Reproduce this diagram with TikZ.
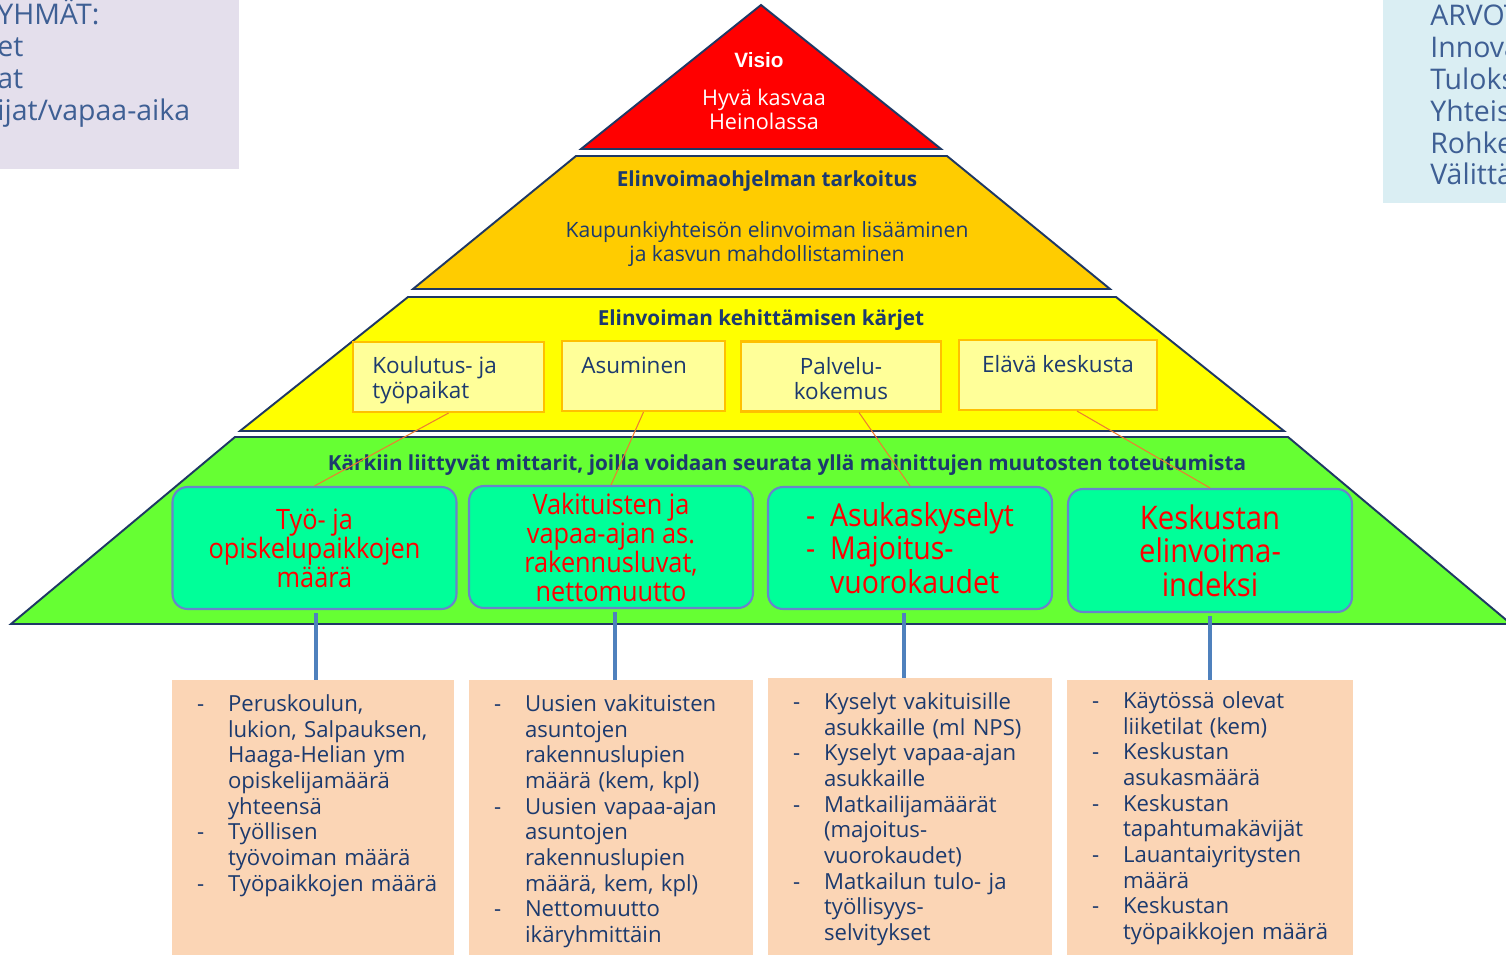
\documentclass[tikz,border=0pt]{standalone}
\usepackage{fontspec}
\setmainfont{Open Sans}
\newfontfamily\visiofont{Liberation Sans}
\newfontfamily\narrowfont[FakeStretch=0.9]{Open Sans}
\usetikzlibrary{calc}
\definecolor{navyline}{RGB}{31,56,100}
\definecolor{navytext}{RGB}{28,58,110}
\definecolor{sidetext}{RGB}{62,95,148}
\definecolor{tarkoitus}{RGB}{255,204,0}
\definecolor{karjet}{RGB}{255,255,0}
\definecolor{mittarit}{RGB}{102,255,51}
\definecolor{karkibox}{RGB}{255,255,153}
\definecolor{karkiedge}{RGB}{255,192,0}
\definecolor{mittaribox}{RGB}{0,255,153}
\definecolor{mittariedge}{RGB}{104,132,204}
\definecolor{peach}{RGB}{251,213,181}
\definecolor{stem}{RGB}{79,129,189}
\definecolor{link}{RGB}{237,125,49}
\definecolor{kohdebg}{RGB}{228,223,236}
\definecolor{arvotbg}{RGB}{218,238,243}
\newcommand{\mitem}[1]{\par\noindent\hangindent=0.62cm\hangafter=1\makebox[0.62cm][l]{-}#1\par}
\tikzset{layer/.style={draw=navyline, line width=1.1pt, line join=miter},
  karki/.style={draw=karkiedge, fill=karkibox, line width=1.2pt, minimum height=1.4cm, inner sep=0pt},
  karkiteksti/.style={text=navytext, inner sep=0pt, font=\fontsize{12.8}{14.2}\selectfont},
  mittari/.style={draw=mittariedge, fill=mittaribox, line width=1.2pt, rounded corners=0.3cm, minimum width=5.68cm, minimum height=2.44cm, inner sep=0pt, text=red, align=center},
  lista/.style={fill=peach, minimum height=5.5cm, inner sep=0pt},
  listateksti/.style={anchor=north west, inner sep=0pt, text width=5.2cm, align=left, text=navytext, font=\fontsize{12.6}{14.6}\selectfont},
  otsikko/.style={text=navytext, inner sep=0pt, font=\bfseries\fontsize{11.8}{13}\selectfont},
  sivu/.style={anchor=north west, inner sep=0pt, align=left, text=sidetext, font=\fontsize{16.2}{18.1}\selectfont},
  linkki/.style={draw=link, line width=0.6pt},
  varsi/.style={draw=stem, line width=2.3pt}}
\begin{document}
\begin{tikzpicture}[x=0.02cm,y=-0.02cm]
     \useasboundingbox (0,0) rectangle (1506,955);
     \clip (0,0) rectangle (1506,955);
     \begin{scope}
      \node[fill=kohdebg, anchor=north west, minimum width=4.78cm, minimum height=3.38cm, inner sep=0pt] (kohde) at (0,0) {};
      \node[sivu] (kohdeteksti) at (-3,-1) {YHMÄT:\\et\\at\\ijat/vapaa-aika};
      \node[fill=arvotbg, anchor=north west, minimum width=3cm, minimum height=4.06cm, inner sep=0pt] (arvot) at (1383,0) {};
      \node[sivu] (arvoteksti) at (1430,5) {ARVOT\\Innova\\Tuloks\\Yhteis\\Rohke\\Välittä};
     \end{scope}
     \begin{scope}
      \draw[layer, fill=red] (761,5) -- (941,149) -- (581,149) -- cycle;
      \node[text=white, inner sep=0pt, font=\visiofont\bfseries\fontsize{11.8}{13}\selectfont] (visio) at (759,60) {Visio};
      \node[text=white, inner sep=0pt, align=center, font=\fontsize{12.3}{13.7}\selectfont] (visioteksti) at (764,109) {Hyvä kasvaa\\Heinolassa};
      \draw[layer, fill=tarkoitus] (576,156) -- (947,156) -- (1110,289) -- (413,289) -- cycle;
      \node[otsikko] (tarkoitus) at (767,181) {Elinvoimaohjelman tarkoitus};
      \node[karkiteksti, align=center, font=\fontsize{12}{13.7}\selectfont] (tarkoitusteksti) at (767,244) {Kaupunkiyhteisön elinvoiman lisääminen\\ja kasvun mahdollistaminen};
      \draw[layer, fill=karjet] (408,297) -- (1116,297) -- (1284,431) -- (240,431) -- cycle;
      \node[otsikko] (karjet) at (761,320) {Elinvoiman kehittämisen kärjet};
      \draw[layer, fill=mittarit] (235,437) -- (1288,437) -- (1511,624) -- (11,624) -- cycle;
      \node[otsikko] (mittarit) at (787,465) {Kärkiin liittyvät mittarit, joilla voidaan seurata yllä mainittujen muutosten toteutumista};
     \end{scope}
     \begin{scope}
      \node[karki, minimum width=3.82cm] (k1) at (448.5,377) {};
      \node[karki, minimum width=3.26cm] (k2) at (643.5,376) {};
      \node[karki, minimum width=4cm] (k3) at (841,376.5) {};
      \node[karki, minimum width=3.96cm] (k4) at (1058,375) {};
      \node[karkiteksti, anchor=west, align=left] (k1t) at ($(k1.west)+(20,3)$) {Koulutus- ja\\työpaikat};
      \node[karkiteksti, anchor=west] (k2t) at ($(k2.north west)+(20,25)$) {Asuminen};
      \node[karkiteksti, align=center] (k3t) at ($(k3)+(0,2)$) {Palvelu-\\kokemus};
      \node[karkiteksti] (k4t) at ($(k4.north)+(0,25)$) {Elävä keskusta};
     \end{scope}
     \begin{scope}
      \node[mittari, font=\narrowfont\fontsize{16}{16.5}\selectfont] (g1) at (314.5,548) {Työ- ja\\opiskelupaikkojen\\määrä};
      \node[mittari, font=\narrowfont\fontsize{16}{16.5}\selectfont] (g2) at (611,547) {Vakituisten ja\\vapaa-ajan as.\\rakennusluvat,\\nettomuutto};
      \node[mittari, font=\narrowfont\fontsize{18}{18.4}\selectfont] (g3) at (910,548) {\raisebox{-0.1cm}[\height][\depth]{\begin{tabular}{@{}l@{\hspace{0.3cm}}l@{}}-&Asukaskyselyt\\-&Majoitus-\\&vuorokaudet\end{tabular}}};
      \node[mittari, minimum height=2.46cm, font=\narrowfont\fontsize{18.5}{19}\selectfont] (g4) at (1210,550.5) {Keskustan\\elinvoima-\\indeksi};
      \draw[linkki] (k1.south) -- (g1.north);
      \draw[linkki] (k2.south) -- (g2.north);
      \draw[linkki] ($(k3.south)+(18,0)$) -- (g3.north);
      \draw[linkki] ($(k4.south)+(19,0)$) -- (g4.north);
     \end{scope}
     \begin{scope}
      \node[lista, minimum width=5.64cm] (p1) at (313,817.5) {};
      \node[lista, minimum width=5.68cm] (p2) at (611,817.5) {};
      \node[lista, minimum width=5.68cm, minimum height=5.54cm] (p3) at (910,816.5) {};
      \node[lista, minimum width=5.72cm] (p4) at (1210,817.5) {};
      \draw[varsi] ($(g1.south)+(1.5,3)$) -- ($(g1.south |- p1.north)+(1.5,0)$);
      \draw[varsi] ($(g2.south)+(4,3)$) -- ($(g2.south |- p2.north)+(4,0)$);
      \draw[varsi] ($(g3.south)+(-6,3)$) -- ($(g3.south |- p3.north)+(-6,0)$);
      \draw[varsi] ($(g4.south)+(0,3)$) -- (g4.south |- p4.north);
      \node[listateksti] (p1t) at ($(p1.north west)+(25,6)$) {\mitem{Peruskoulun,\newline lukion, Salpauksen,\newline Haaga-Helian ym\newline opiskelijamäärä\newline yhteensä}\mitem{Työllisen\newline työvoiman määrä}\mitem{Työpaikkojen määrä}};
      \node[listateksti] (p2t) at ($(p2.north west)+(25,6)$) {\mitem{Uusien vakituisten\newline asuntojen\newline rakennuslupien\newline määrä (kem, kpl)}\mitem{Uusien vapaa-ajan\newline asuntojen\newline rakennuslupien\newline määrä, kem, kpl)}\mitem{Nettomuutto\newline ikäryhmittäin}};
      \node[listateksti] (p3t) at ($(p3.north west)+(25,6)$) {\mitem{Kyselyt vakituisille\newline asukkaille (ml NPS)}\mitem{Kyselyt vapaa-ajan\newline asukkaille}\mitem{Matkailijamäärät\newline (majoitus-\newline vuorokaudet)}\mitem{Matkailun tulo- ja\newline työllisyys-\newline selvitykset}};
      \node[listateksti] (p4t) at ($(p4.north west)+(25,3)$) {\mitem{Käytössä olevat\newline liiketilat (kem)}\mitem{Keskustan\newline asukasmäärä}\mitem{Keskustan\newline tapahtumakävijät}\mitem{Lauantaiyritysten\newline määrä}\mitem{Keskustan\newline työpaikkojen määrä}};
     \end{scope}
    \end{tikzpicture}
\end{document}
